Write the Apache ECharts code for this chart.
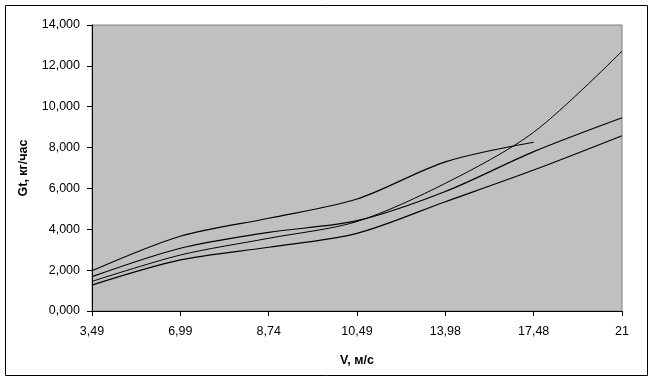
<!DOCTYPE html>
<html>
<head>
<meta charset="utf-8">
<script src="https://cdn.jsdelivr.net/npm/echarts@6/dist/echarts.min.js"></script>
<style>
html,body{margin:0;padding:0;background:#fff;}
#chart{width:655px;height:382px;}
</style>
</head>
<body>
<div id="chart"></div>
<script>
var categories = ['3,49', '6,99', '8,74', '10,49', '13,98', '17,48', '21'];
var seriesA = [1.97, 3.66, 4.54, 5.48, 7.30, 8.26, null];
var seriesB = [1.45, 2.74, 3.56, 4.38, 6.25, 8.75, 12.72];
var seriesC = [1.68, 3.07, 3.85, 4.42, 5.85, 7.80, 9.46];
var seriesD = [1.27, 2.50, 3.12, 3.80, 5.35, 6.90, 8.58];
var yTicks = [0, 2, 4, 6, 8, 10, 12, 14];

var chart = echarts.init(document.getElementById('chart'));
var font = '"Liberation Sans", Arial, sans-serif';
function mk(data, w) {
  return {
    type: 'line', data: data, smooth: 0.3, symbol: 'none', connectNulls: false,
    lineStyle: {color: '#000', width: w}, silent: true
  };
}
chart.setOption({
  animation: false,
  backgroundColor: '#fff',
  graphic: [{
    type: 'rect', shape: {x: 5.5, y: 5.5, width: 642, height: 370},
    style: {fill: 'none', stroke: '#000', lineWidth: 1}, z: 100
  }],
  grid: {left: 92, right: 33, top: 25, bottom: 71, show: true,
    backgroundColor: '#c0c0c0', borderColor: '#808080', borderWidth: 1},
  xAxis: {
    type: 'category', data: categories, boundaryGap: false,
    name: 'V, м/с', nameLocation: 'middle', nameGap: 43,
    nameTextStyle: {fontFamily: font, fontSize: 12.5, fontWeight: 'bold', color: '#000'},
    axisLine: {lineStyle: {color: '#000', width: 1}},
    axisTick: {show: true, length: 5, lineStyle: {color: '#000'}},
    axisLabel: {fontFamily: font, fontSize: 12.5, color: '#000', margin: 14},
    splitLine: {show: false}
  },
  yAxis: {
    type: 'value', min: 0, max: 14, interval: 2,
    name: 'Gt, кг/час', nameLocation: 'middle', nameGap: 62, nameRotate: 90,
    nameTextStyle: {fontFamily: font, fontSize: 12.5, fontWeight: 'bold', color: '#000'},
    axisLine: {show: true, lineStyle: {color: '#000', width: 1}},
    axisTick: {show: true, length: 5, lineStyle: {color: '#000'}},
    axisLabel: {fontFamily: font, fontSize: 12.5, color: '#000', margin: 12,
      formatter: function (v) { return v.toFixed(3).replace('.', ','); }},
    splitLine: {show: false}
  },
  series: [mk(seriesA, 1.2), mk(seriesB, 1), mk(seriesC, 1.2), mk(seriesD, 1.2)]
});
</script>
</body>
</html>
